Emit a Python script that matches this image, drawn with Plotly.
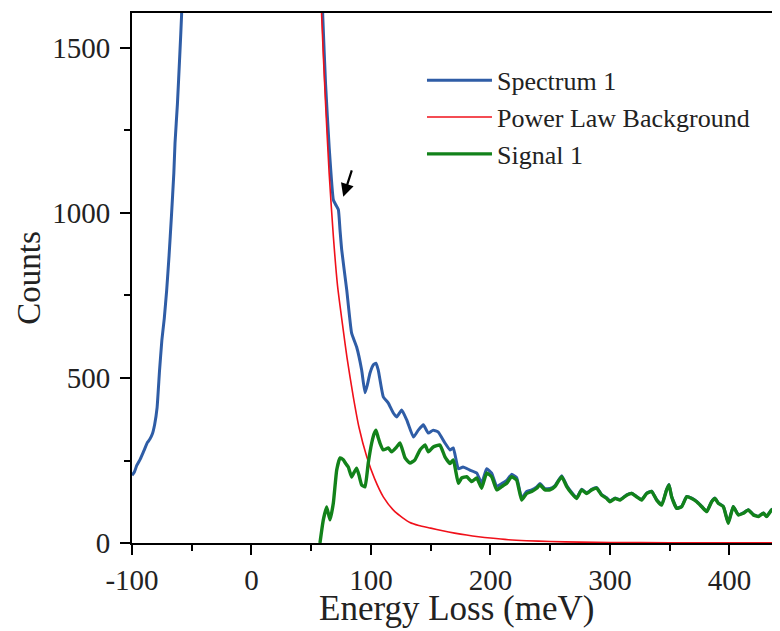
import plotly.graph_objects as go

# ---------------- data ----------------
spectrum_x = [-100, -98, -96, -93, -90, -87, -85, -83, -81, -79, -77, -75, -73, -71, -69, -67,
              -65, -64, -62, -60, -58.5, -55, -40, 0, 40, 55, 57,
              59.6, 62, 65, 68.5, 70.5, 72.7, 74.1, 75.5, 79.7, 83.8, 88, 92.2, 95, 97, 99.2,
              102, 104.2, 106.1, 110.3, 114.5, 118.7, 121.5, 125.7, 129.9, 135.5, 139.6, 143.8,
              148, 152.1, 156.3, 161.9, 166.1, 168.9, 173.1, 177, 182.8, 188.5, 192.6, 196.8,
              201, 205.2, 209.4, 213.6, 217.7, 221.9, 226.1, 230.3, 234.5, 238.7, 241.4, 245.6,
              249.8, 254, 259.6, 263.8, 268, 272.1, 276.3, 280.5, 284.7, 288.9, 293, 297.2,
              300, 304.2, 308.4, 314, 318.2, 322.3, 326.5, 330.7, 334.9, 339.1, 343.3, 347.4,
              349.4, 351.6, 355.8, 360, 364.2, 368.4, 372.6, 376.8, 381, 385.1, 387.9, 390.7,
              394.9, 399, 403.2, 407.4, 411.6, 415.8, 420, 424.2, 428.4, 431.1, 435.3, 439.5, 442.3]
spectrum_y = [205, 215, 235, 255, 280, 305, 315, 330, 360, 410, 520, 615, 680, 765, 870, 990,
              1120, 1212, 1330, 1480, 1600, 2200, 8000, 60000, 8000, 2200, 2000,
              1600, 1390, 1200, 1040, 1025, 1010, 948, 888, 767, 636, 594, 524, 455, 480, 515,
              540, 545, 524, 443, 424, 394, 382, 403, 373, 321, 342, 358,
              333, 342, 336, 303, 282, 288, 225, 230, 221, 212, 181, 225,
              212, 172, 180, 190, 208, 198, 136, 156, 161, 170, 180, 165,
              165, 174, 204, 174, 153, 137, 163, 152, 163, 168, 147, 137,
              127, 136, 131, 146, 151, 141, 131, 151, 157, 131, 116, 162,
              177, 141, 106, 111, 141, 136, 126, 111, 96, 126, 136, 121,
              111, 61, 111, 86, 91, 101, 86, 81, 91, 81, 101, 106, 96]

background_x = [57.5, 58.7, 62, 65, 68.5, 72, 76.8, 80, 85.2, 90, 96.4, 103, 110.3, 120,
                132.6, 140, 150, 160, 170, 180, 190, 200, 215, 230, 250, 275, 300, 350, 400, 442.3]
background_y = [1800, 1600, 1330, 1120, 930, 780, 645, 560, 443, 350, 262, 195, 140, 95,
                62, 53, 45, 37, 30, 24, 19, 15, 10, 7, 4.5, 2.5, 1.5, 0.8, 0.5, 0.3]

signal_x = [57.3, 60.1, 62.9, 65.7, 68.5, 71.3, 74.1, 76.8, 79, 81, 83.8, 86, 88, 90, 92.2,
            95, 97.7, 100.6, 102.5, 104.2, 106, 107.5, 110.3, 114.5, 117.3, 121.5, 124.3,
            128.5, 132.6, 136.8, 141, 145.2, 148, 152.1, 157.7, 161.9, 166.1, 168.9, 173.1,
            175.9, 180.1, 184.3, 188.5, 192.6, 196.8, 201, 205.2, 209.4, 213.6, 217.7, 221.9,
            226.1, 230.3, 234.5, 238.7, 241.4, 245.6, 249.8, 254, 259.6, 263.8, 268, 272.1,
            276.3, 280.5, 284.7, 288.9, 293, 297.2, 300, 304.2, 308.4, 314, 318.2, 322.3,
            326.5, 330.7, 334.9, 339.1, 343.3, 347.4, 349.4, 351.6, 355.8, 360, 364.2, 368.4,
            372.6, 376.8, 381, 385.1, 387.9, 390.7, 394.9, 399, 403.2, 407.4, 411.6, 415.8,
            420, 424.2, 428.4, 431.1, 435.3, 439.5, 442.3]
signal_y = [0, 70, 109, 70, 121, 221, 258, 252, 240, 230, 200, 215, 227, 205, 176,
            170, 242, 303, 330, 342, 320, 303, 282, 288, 276, 291, 303,
            258, 242, 252, 282, 297, 276, 291, 297, 261, 241, 252, 181,
            197, 201, 186, 197, 166, 212, 201, 161, 171, 181, 201, 191,
            130, 150, 156, 166, 176, 161, 161, 171, 201, 171, 150, 135,
            161, 150, 161, 166, 145, 135, 125, 135, 130, 145, 150, 140,
            130, 150, 156, 130, 115, 161, 176, 140, 105, 110, 140, 135,
            125, 110, 95, 125, 135, 120, 110, 60, 110, 85, 90, 100,
            85, 80, 90, 80, 100, 105, 95]

x_ticks = [-100, 0, 100, 200, 300, 400]
y_ticks = [0, 500, 1000, 1500]
arrow_point = (76.8, 1049)

FONT = "Liberation Serif"
TXT = "#222222"

fig = go.Figure()
fig.add_trace(go.Scatter(x=spectrum_x, y=spectrum_y, mode="lines", name="Spectrum 1",
                         line=dict(color="#2F5DA6", width=3, shape="spline", smoothing=0.4)))
fig.add_trace(go.Scatter(x=background_x, y=background_y, mode="lines", name="Power Law Background",
                         line=dict(color="#F0101A", width=1.6, shape="spline", smoothing=0.6)))
fig.add_trace(go.Scatter(x=signal_x, y=signal_y, mode="lines", name="Signal 1",
                         line=dict(color="#12821A", width=3.4, shape="spline", smoothing=0.4)))

fig.add_annotation(x=arrow_point[0], y=arrow_point[1], ax=9, ay=-28, text="",
                   showarrow=True, arrowhead=2, arrowsize=1.2, arrowwidth=2.2, arrowcolor="black")

# x-axis title placed as a paper annotation for exact position
fig.add_annotation(text="Energy Loss (meV)", xref="paper", yref="paper",
                   x=0.50, y=-0.1245, xanchor="center", yanchor="middle", showarrow=False,
                   font=dict(family=FONT, size=35, color=TXT))

fig.update_layout(
    width=772, height=623,
    margin=dict(l=124, r=0, t=5, b=88),
    paper_bgcolor="white", plot_bgcolor="white",
    font=dict(family=FONT, color=TXT, size=29),
    showlegend=True,
    legend=dict(x=0.4475, y=0.9173, xanchor="left", yanchor="top",
                font=dict(family=FONT, size=26, color=TXT),
                bgcolor="rgba(0,0,0,0)", itemwidth=65, tracegroupgap=0),
)
fig.update_xaxes(
    range=[-100, 442.3], tickvals=x_ticks, ticktext=[str(v) for v in x_ticks],
    showline=True, linecolor="black", linewidth=2, mirror=True,
    ticks="outside", ticklen=10, tickwidth=2, tickcolor="black",
    minor=dict(ticks="outside", ticklen=6, tickwidth=2, tickcolor="black", dtick=50, tick0=-100),
    showgrid=False, zeroline=False,
    tickfont=dict(family=FONT, size=29, color=TXT),
)
fig.update_yaxes(
    range=[0, 1606], tickvals=y_ticks, ticktext=[str(v) for v in y_ticks],
    showline=True, linecolor="black", linewidth=2, mirror=False,
    ticks="outside", ticklen=10, tickwidth=2, tickcolor="black",
    minor=dict(ticks="outside", ticklen=6, tickwidth=2, tickcolor="black", dtick=250, tick0=0),
    showgrid=False, zeroline=False, ticklabelstandoff=4,
    tickfont=dict(family=FONT, size=29, color=TXT),
    title=dict(text="Counts", font=dict(family=FONT, size=33, color=TXT), standoff=2),
)

fig.write_html("out.html")
